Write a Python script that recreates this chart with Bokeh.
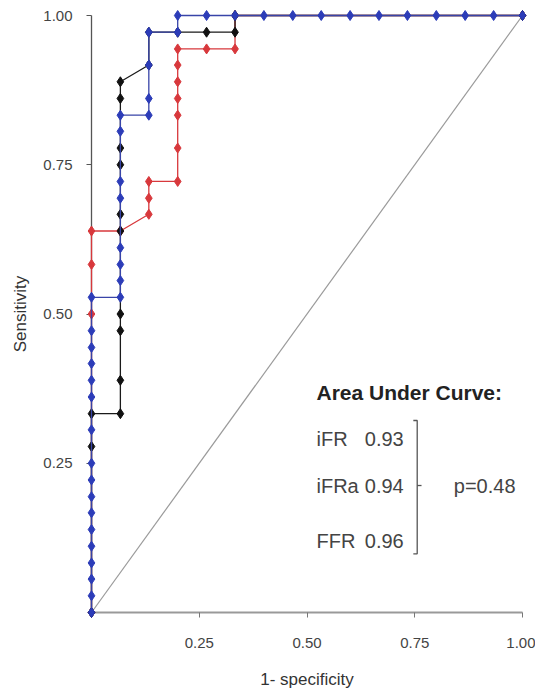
from bokeh.plotting import figure
from bokeh.models import Range1d, FixedTicker, NumeralTickFormatter, Label
from bokeh.embed import file_html
from bokeh.resources import INLINE

# ---- data ----
x_ticks = [0.25, 0.50, 0.75, 1.00]
y_ticks = [0.25, 0.50, 0.75, 1.00]

# iFR (red)
ifr_fpr = [0, 0, 0, 0, 0.067, 0.133, 0.133, 0.133, 0.2, 0.2, 0.2, 0.2, 0.2, 0.2, 0.2,
           0.267, 0.333, 0.333, 1.0]
ifr_tpr = [0, 0.5, 0.583, 0.639, 0.639, 0.667, 0.694, 0.722, 0.722, 0.778, 0.833, 0.861,
           0.889, 0.917, 0.944, 0.944, 0.944, 1.0, 1.0]

# iFRa (black)
ifra_fpr = [0, 0, 0, 0.067, 0.067, 0.067, 0.067, 0.067, 0.067, 0.067, 0.067, 0.067, 0.067,
            0.133, 0.133, 0.2, 0.267, 0.333, 0.333, 1.0]
ifra_tpr = [0, 0.278, 0.333, 0.333, 0.389, 0.472, 0.5, 0.639, 0.667, 0.75, 0.778, 0.861,
            0.889, 0.917, 0.972, 0.972, 0.972, 0.972, 1.0, 1.0]

# FFR (blue)
ffr_fpr = [0, 0, 0, 0, 0, 0, 0, 0, 0, 0, 0, 0, 0, 0, 0, 0, 0,
           0.067, 0.067, 0.067, 0.067, 0.067, 0.067, 0.067, 0.067,
           0.133, 0.133, 0.133, 0.133, 0.2, 0.2,
           0.267, 0.333, 0.4, 0.467, 0.533, 0.6, 0.667, 0.733, 0.8, 0.867, 0.933, 1.0]
ffr_tpr = [0, 0.028, 0.056, 0.083, 0.111, 0.139, 0.167, 0.194, 0.222, 0.25, 0.306, 0.361,
           0.389, 0.417, 0.444, 0.472, 0.528,
           0.528, 0.556, 0.583, 0.611, 0.694, 0.722, 0.806, 0.833,
           0.833, 0.861, 0.917, 0.972, 0.972, 1.0,
           1.0, 1.0, 1.0, 1.0, 1.0, 1.0, 1.0, 1.0, 1.0, 1.0, 1.0, 1.0]

ref_x = [0, 1]
ref_y = [0, 1]

auc_names = ["iFR", "iFRa", "FFR"]
auc_values = [0.93, 0.94, 0.96]
p_value = 0.48

FONT = "Liberation Sans"

p = figure(width=535, height=695, x_range=Range1d(0, 1), y_range=Range1d(0, 1),
           output_backend="svg", toolbar_location=None,
           min_border_left=91, min_border_right=13, min_border_top=15, min_border_bottom=83)
p.outline_line_color = None
p.grid.visible = False
p.background_fill_color = "white"

# axes
p.xaxis.ticker = FixedTicker(ticks=x_ticks)
p.yaxis.ticker = FixedTicker(ticks=y_ticks)
p.xaxis.formatter = NumeralTickFormatter(format="0.00")
p.yaxis.formatter = NumeralTickFormatter(format="0.00")
for ax in (p.xaxis[0], p.yaxis[0]):
    ax.minor_tick_line_color = None
    ax.major_tick_in = 0
    ax.major_tick_out = 5
    ax.major_label_text_font = FONT
    ax.major_label_text_font_size = "15px"
    ax.major_label_text_color = "#444444"
    ax.axis_label_text_font = FONT
    ax.axis_label_text_font_style = "normal"
    ax.axis_label_text_color = "#333333"
    ax.axis_label_text_font_size = "17px"
p.xaxis.axis_line_color = "#999999"
p.xaxis.axis_line_width = 2
p.xaxis.major_tick_line_color = "#777777"
p.yaxis.axis_line_color = "#555555"
p.yaxis.axis_line_width = 1.3
p.yaxis.major_tick_line_color = "#555555"
p.xaxis.major_label_standoff = 20
p.yaxis.major_label_standoff = 14
p.xaxis.axis_label = "1- specificity"
p.yaxis.axis_label = "Sensitivity"
p.xaxis.axis_label_standoff = 19
p.yaxis.axis_label_standoff = 10

# reference diagonal
p.line(ref_x, ref_y, line_color="#9a9a9a", line_width=1.2)

series = [
    (ifr_fpr, ifr_tpr, "#d8383c", "#d8383c"),
    (ifra_fpr, ifra_tpr, "#1a1a1a", "#111111"),
    (ffr_fpr, ffr_tpr, "#3844a8", "#2c3cb8"),
]
for xs, ys, lc, mc in series:
    p.line(xs, ys, line_color=lc, line_width=1.3, level="overlay")
    p.scatter(xs, ys, marker="diamond", size=10, fill_color=mc, line_color=mc,
              level="overlay")

# annotation block
p.add_layout(Label(x=0.522, y=0.369, text="Area Under Curve:", text_font=FONT,
                   text_font_size="21px", text_font_style="bold", text_color="#222222",
                   text_baseline="middle", text_align="left"))
name_y = [0.291, 0.2127, 0.1206]
for name, val, yy in zip(auc_names, auc_values, name_y):
    p.add_layout(Label(x=0.522, y=yy, text=name, text_font=FONT, text_font_size="20px",
                       text_color="#444444", text_baseline="middle", text_align="left"))
    p.add_layout(Label(x=0.634, y=yy, text=f"{val:.2f}", text_font=FONT,
                       text_font_size="20px", text_color="#444444",
                       text_baseline="middle", text_align="left"))

# bracket
bx = 0.7557
p.line([bx - 0.009, bx, bx, bx - 0.009], [0.3216, 0.3216, 0.0983, 0.0983],
       line_color="#555555", line_width=1.3)
p.line([bx, bx + 0.01], [0.2127, 0.2127], line_color="#555555", line_width=1.3)
p.add_layout(Label(x=0.8406, y=0.2127, text=f"p={p_value:.2f}", text_font=FONT,
                   text_font_size="20px", text_color="#444444",
                   text_baseline="middle", text_align="left"))

open("out.html", "w").write(file_html(p, INLINE))
